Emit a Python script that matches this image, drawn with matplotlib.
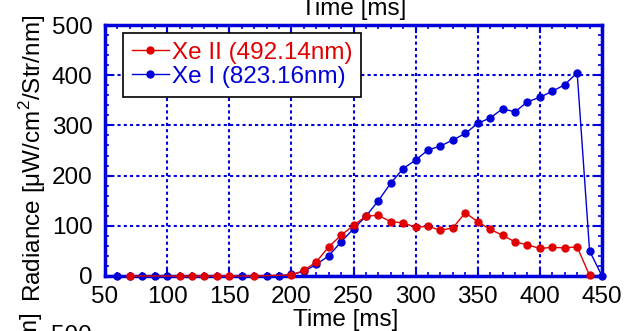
import matplotlib
matplotlib.use("Agg")
import matplotlib.pyplot as plt
from matplotlib.ticker import MultipleLocator

plt.rcParams['font.family'] = ['Liberation Sans', 'DejaVu Sans']

# === data ===
t_red = [70, 110, 120, 130, 140, 150, 170, 200, 210, 220, 230, 240, 250, 260, 270,
         280, 290, 300, 310, 320, 330, 340, 350, 360, 370, 380, 390, 400, 410,
         420, 430, 440]
xe2 = [0, 0, 0, 0, 0, 0, 0, 2, 11, 28, 58, 81, 101, 119, 121,
       108, 106, 97, 99, 91, 96, 126, 108, 93, 81, 68, 62, 55, 57,
       56, 58, 1]

t_blue = [60, 70, 80, 90, 100, 160, 180, 190, 200, 210, 220, 230, 240, 250, 260,
          270, 280, 290, 300, 310, 320, 330, 340, 350, 360, 370, 380, 390, 400,
          410, 420, 430, 440, 450]
xe1 = [0, 0, 0, 0, 0, 0, 0, 0, 3, 9, 23, 40, 68, 94, 119,
       150, 185, 214, 231, 251, 259, 271, 284, 304, 315, 333, 327, 347, 356,
       368, 381, 405, 50, 0]

RED = '#e00000'
BLUE = '#0000d8'
FRAME = '#0000dd'
FS = 17.5
YLAB = r'Radiance [$\mathregular{\mu}$W/cm$^\mathregular{2}$/Str/nm]'

W, H = 625, 331
fig = plt.figure(figsize=(W / 100, H / 100), dpi=100)
ax = fig.add_axes([105 / W, 55 / H, 497 / W, 251 / H])

ax.plot(t_blue, xe1, '-o', color=BLUE, lw=1, ms=5, clip_on=False, zorder=3,
        label='Xe I (823.16nm)')
ax.plot(t_red, xe2, '-o', color=RED, lw=1, ms=5, clip_on=False, zorder=4,
        label='Xe II (492.14nm)')

ax.set_xlim(50, 450)
ax.set_ylim(0, 500)
ax.xaxis.set_major_locator(MultipleLocator(50))
ax.xaxis.set_minor_locator(MultipleLocator(10))
ax.yaxis.set_major_locator(MultipleLocator(100))
ax.yaxis.set_minor_locator(MultipleLocator(20))
ax.tick_params(which='both', direction='in', top=True, right=True, color=FRAME,
               labelsize=FS, labelcolor='black')
ax.tick_params(which='major', length=6, width=1.5)
ax.tick_params(which='minor', length=3, width=1.2)
ax.tick_params(axis='x', which='major', pad=7)
ax.tick_params(axis='y', which='major', pad=9)
for s in ax.spines.values():
    s.set_color(FRAME)
    s.set_linewidth(2.5)
ax.grid(True, which='major', color=FRAME, ls=(0, (1.5, 1.5)), lw=1.5)
ax.set_axisbelow(True)

# axis titles placed as in the reference
fig.text(346 / W, 1 - 309 / H, 'Time [ms]', fontsize=FS, ha='center', va='top')
fig.text(33 / W, 1 - 158 / H, YLAB, fontsize=FS, rotation=90, ha='center', va='center')

h, l = ax.get_legend_handles_labels()
leg = ax.legend(h[::-1], l[::-1], loc='upper left', bbox_to_anchor=(18 / 497, 0.97),
                fontsize=FS, frameon=True, fancybox=False, framealpha=1,
                borderpad=0.38, handlelength=1.5, handletextpad=0.12,
                labelspacing=0.08, borderaxespad=0)
leg.get_frame().set_edgecolor('black')
leg.get_frame().set_linewidth(1.2)
for txt, c in zip(leg.get_texts(), [RED, BLUE]):
    txt.set_color(c)

# pieces of the neighbouring panels cut by the crop
fig.text(354 / W, 1 - 15 / H, 'Time [ms]', fontsize=FS, ha='center', va='baseline')
fig.text(30 / W, 18 / H, YLAB, fontsize=FS, rotation=90, ha='center', va='top')
fig.text(92 / W, 6 / H, '500', fontsize=FS, ha='right', va='top')

fig.savefig('out.png', dpi=100)
